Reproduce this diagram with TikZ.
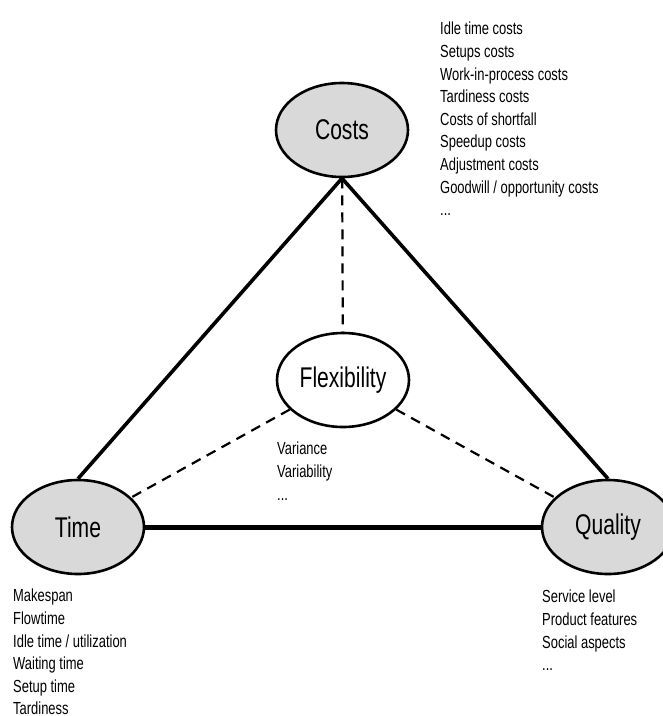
\documentclass[tikz,border=0pt]{standalone}
\usepackage{fontspec}
\setmainfont{Liberation Sans}[FakeStretch=0.74]
\usetikzlibrary{shapes.geometric}
\definecolor{ink}{HTML}{000000}
\definecolor{goalfill}{HTML}{D9D9D9}

\begin{document}
\begin{tikzpicture}[
  x=1pt, y=-1pt,
  every node/.style={text=ink},
  goal/.style={ellipse, draw=ink, line width=2.6pt, fill=goalfill,
               minimum width=132pt, minimum height=94pt, inner sep=0pt,
               font=\fontsize{28.5}{30}\selectfont},
  hub/.style={goal, fill=white},
  note/.style={anchor=north west, inner sep=0pt, align=left,
               font=\fontsize{17.5}{22.6}\selectfont},
  side/.style={line width=3.6pt, draw=ink},
  floor/.style={side, line width=5pt},
  dashlink/.style={line width=2.2pt, draw=ink, dash pattern=on 10pt off 7pt}
]
  \useasboundingbox (0,0) rectangle (663,716);

  % the three corners and the centre
  \node[goal] (costs)   at (342,130) {Costs};
  \node[hub]  (flex)    at (343,380) {Flexibility};
  \node[goal] (time)    at (78,527)  {Time};
  \node[goal] (quality) at (608,527) {Quality};

  \draw[side]  (costs.south) -- (time.north);
  \draw[side]  (costs.south) -- (quality.north);
  \draw[floor] (time) -- (quality);

  \draw[dashlink] (costs) -- (flex);
  \draw[dashlink] (flex) -- (time);
  \draw[dashlink] (flex) -- (quality);

  % measures per corner
  \node[note] (costsnote) at (440,22)
    {Idle time costs\\Setups costs\\Work-in-process costs\\Tardiness costs\\
     Costs of shortfall\\Speedup costs\\Adjustment costs\\
     Goodwill / opportunity costs\\...};
  \node[note] (flexnote) at (277,442) {Variance\\Variability\\...};
  \node[note] (timenote) at (13,589)
    {Makespan\\Flowtime\\Idle time / utilization\\Waiting time\\Setup time\\Tardiness};
  \node[note] (qualitynote) at (542,590)
    {Service level\\Product features\\Social aspects\\...};
\end{tikzpicture}
\end{document}
